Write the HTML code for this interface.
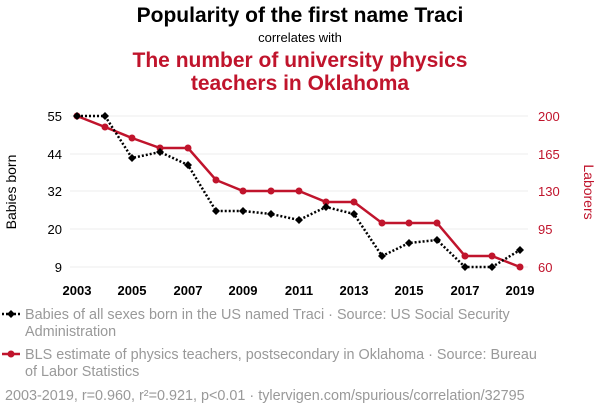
<!DOCTYPE html>
<html><head><meta charset="utf-8"><style>
body{margin:0;background:#fff;width:600px;height:414px;overflow:hidden;font-family:"Liberation Sans",sans-serif}
</style></head><body>
<svg width="600" height="414" xmlns="http://www.w3.org/2000/svg" font-family="Liberation Sans, sans-serif">
<text x="300" y="22" text-anchor="middle" font-size="21" font-weight="bold" fill="#000">Popularity of the first name Traci</text>
<text x="300" y="42" text-anchor="middle" font-size="13" fill="#000">correlates with</text>
<text x="300" y="67" text-anchor="middle" font-size="21" font-weight="bold" fill="#c0142c">The number of university physics</text>
<text x="300" y="90" text-anchor="middle" font-size="21" font-weight="bold" fill="#c0142c">teachers in Oklahoma</text>
<g stroke="#eee" stroke-width="1">
<line x1="70" x2="528" y1="116" y2="116"/><line x1="70" x2="528" y1="154" y2="154"/><line x1="70" x2="528" y1="191" y2="191"/><line x1="70" x2="528" y1="229" y2="229"/><line x1="70" x2="528" y1="267" y2="267"/>
</g>
<g font-size="13" fill="#000" text-anchor="end">
<text x="62" y="121">55</text><text x="62" y="159">44</text><text x="62" y="196">32</text><text x="62" y="234">20</text><text x="62" y="272">9</text>
</g>
<g font-size="13" fill="#c0142c" text-anchor="start">
<text x="538" y="121">200</text><text x="538" y="159">165</text><text x="538" y="196">130</text><text x="538" y="234">95</text><text x="538" y="272">60</text>
</g>
<text transform="translate(16,192) rotate(-90)" text-anchor="middle" font-size="14" fill="#000">Babies born</text>
<text transform="translate(584,192) rotate(90)" text-anchor="middle" font-size="14" fill="#c0142c">Laborers</text>
<g font-size="13" font-weight="bold" fill="#000" text-anchor="middle">
<text x="77" y="295">2003</text><text x="132" y="295">2005</text><text x="188" y="295">2007</text><text x="243" y="295">2009</text><text x="299" y="295">2011</text><text x="354" y="295">2013</text><text x="409" y="295">2015</text><text x="465" y="295">2017</text><text x="520" y="295">2019</text>
</g>
<polyline fill="none" stroke="#c0142c" stroke-width="2.5" points="77,116 105,127 132,138 160,148 188,148 216,180 243,191 271,191 299,191 326,202 354,202 382,223 409,223 437,223 465,256 492,256 520,267"/>
<g fill="#c0142c">
<circle cx="77" cy="116" r="3.5"/><circle cx="105" cy="127" r="3.5"/><circle cx="132" cy="138" r="3.5"/><circle cx="160" cy="148" r="3.5"/><circle cx="188" cy="148" r="3.5"/><circle cx="216" cy="180" r="3.5"/><circle cx="243" cy="191" r="3.5"/><circle cx="271" cy="191" r="3.5"/><circle cx="299" cy="191" r="3.5"/><circle cx="326" cy="202" r="3.5"/><circle cx="354" cy="202" r="3.5"/><circle cx="382" cy="223" r="3.5"/><circle cx="409" cy="223" r="3.5"/><circle cx="437" cy="223" r="3.5"/><circle cx="465" cy="256" r="3.5"/><circle cx="492" cy="256" r="3.5"/><circle cx="520" cy="267" r="3.5"/>
</g>
<polyline fill="none" stroke="#000" stroke-width="2.5" stroke-dasharray="2,2" points="77,116 105,116 132,158 160,152 188,165 216,211 243,211 271,214 299,220 326,207 354,214 382,256 409,243 437,240 465,267 492,267 520,250"/>
<g fill="#000">
<path d="M77 112l4 4-4 4-4-4z"/><path d="M105 112l4 4-4 4-4-4z"/><path d="M132 154l4 4-4 4-4-4z"/><path d="M160 148l4 4-4 4-4-4z"/><path d="M188 161l4 4-4 4-4-4z"/><path d="M216 207l4 4-4 4-4-4z"/><path d="M243 207l4 4-4 4-4-4z"/><path d="M271 210l4 4-4 4-4-4z"/><path d="M299 216l4 4-4 4-4-4z"/><path d="M326 203l4 4-4 4-4-4z"/><path d="M354 210l4 4-4 4-4-4z"/><path d="M382 252l4 4-4 4-4-4z"/><path d="M409 239l4 4-4 4-4-4z"/><path d="M437 236l4 4-4 4-4-4z"/><path d="M465 263l4 4-4 4-4-4z"/><path d="M492 263l4 4-4 4-4-4z"/><path d="M520 246l4 4-4 4-4-4z"/>
</g>
<line x1="2" x2="20" y1="314" y2="314" stroke="#000" stroke-width="2.5" stroke-dasharray="2,2"/>
<path d="M11 310l4 4-4 4-4-4z" fill="#000"/>
<g font-size="14.4" fill="#999">
<text x="25" y="319">Babies of all sexes born in the US named Traci · Source: US Social Security</text>
<text x="25" y="336">Administration</text>
<text x="25" y="359">BLS estimate of physics teachers, postsecondary in Oklahoma · Source: Bureau</text>
<text x="25" y="376">of Labor Statistics</text>
<text x="5" y="400">2003-2019, r=0.960, r²=0.921, p&lt;0.01 · tylervigen.com/spurious/correlation/32795</text>
</g>
<line x1="2" x2="20" y1="354" y2="354" stroke="#c0142c" stroke-width="2.5"/>
<circle cx="11" cy="354" r="3.5" fill="#c0142c"/>
</svg>
</body></html>
